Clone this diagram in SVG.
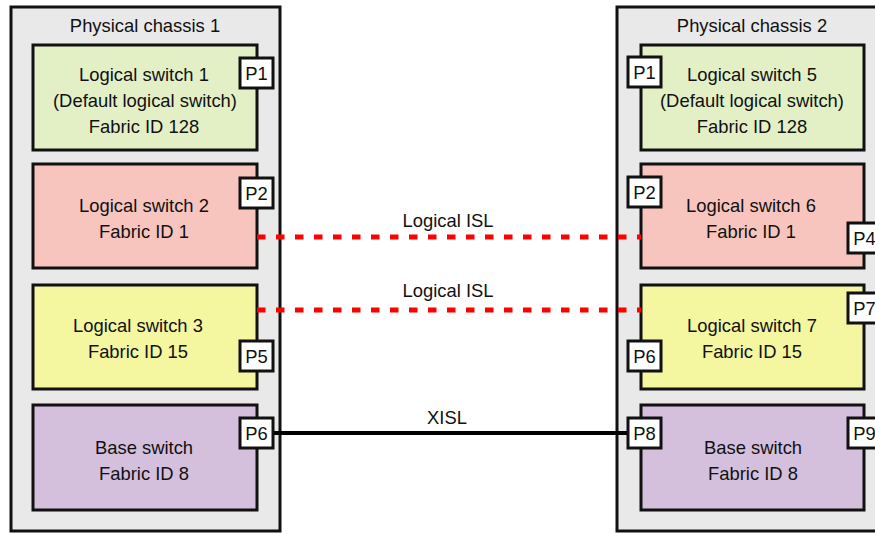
<svg xmlns="http://www.w3.org/2000/svg" width="875" height="533" viewBox="0 0 875 533">
<style>
text{font-family:"Liberation Sans",Arial,sans-serif;font-size:18.4px;fill:#111;text-anchor:middle}
.chassis{fill:#e9e9e9;stroke:#111;stroke-width:3}
.box{stroke:#111;stroke-width:3}
.g{fill:#e3f0c6}.r{fill:#f7c5bd}.y{fill:#f4f6a0}.p{fill:#d4bfdd}
.port{fill:#fff;stroke:#111;stroke-width:3}
.isl{stroke:#f00;stroke-width:5;stroke-dasharray:8.5 10.5;fill:none}
.xisl{stroke:#000;stroke-width:4;fill:none}
</style>
<rect width="875" height="533" fill="#fff"/>
<g id="chassis1">
<rect class="chassis" x="11" y="7" width="269" height="524"/>
<text x="145" y="32">Physical chassis 1</text>
</g>
<g id="chassis2">
<rect class="chassis" x="617" y="7" width="270" height="524"/>
<text x="752" y="32">Physical chassis 2</text>
</g>
<g id="ls1">
<rect class="box g" x="33" y="45" width="224" height="105"/>
<text x="144" y="81">Logical switch 1</text>
<text x="145" y="107">(Default logical switch)</text>
<text x="144" y="133">Fabric ID 128</text>
</g>
<g id="ls2">
<rect class="box r" x="33" y="164" width="224" height="104"/>
<text x="144" y="212">Logical switch 2</text>
<text x="144" y="238">Fabric ID 1</text>
</g>
<g id="ls3">
<rect class="box y" x="33" y="285" width="224" height="104"/>
<text x="138" y="332">Logical switch 3</text>
<text x="138" y="358">Fabric ID 15</text>
</g>
<g id="base1">
<rect class="box p" x="33" y="405" width="224" height="105"/>
<text x="144" y="454">Base switch</text>
<text x="144" y="480">Fabric ID 8</text>
</g>
<g id="ls5">
<rect class="box g" x="641" y="45" width="223" height="105"/>
<text x="752" y="81">Logical switch 5</text>
<text x="752" y="107">(Default logical switch)</text>
<text x="752" y="133">Fabric ID 128</text>
</g>
<g id="ls6">
<rect class="box r" x="641" y="164" width="223" height="104"/>
<text x="751" y="212">Logical switch 6</text>
<text x="751" y="238">Fabric ID 1</text>
</g>
<g id="ls7">
<rect class="box y" x="641" y="285" width="223" height="104"/>
<text x="752" y="332">Logical switch 7</text>
<text x="752" y="358">Fabric ID 15</text>
</g>
<g id="base2">
<rect class="box p" x="641" y="405" width="223" height="105"/>
<text x="753" y="454">Base switch</text>
<text x="753" y="480">Fabric ID 8</text>
</g>
<g id="connectors">
<line class="isl" x1="257" y1="237" x2="641" y2="237"/>
<line class="isl" x1="257" y1="310" x2="641" y2="310"/>
<line class="xisl" x1="273" y1="433" x2="627" y2="433"/>
<text x="448" y="227">Logical ISL</text>
<text x="448" y="297">Logical ISL</text>
<text x="447" y="424">XISL</text>
</g>
<g id="ports">
<rect class="port" x="240" y="58" width="33" height="30"/><text x="256.5" y="80">P1</text>
<rect class="port" x="240" y="178" width="33" height="30"/><text x="256.5" y="200">P2</text>
<rect class="port" x="240" y="341" width="33" height="30"/><text x="256.5" y="363">P5</text>
<rect class="port" x="240" y="418" width="33" height="30"/><text x="256.5" y="440">P6</text>
<rect class="port" x="628" y="57" width="33" height="30"/><text x="644.5" y="79">P1</text>
<rect class="port" x="628" y="177" width="33" height="30"/><text x="644.5" y="199">P2</text>
<rect class="port" x="628" y="341" width="33" height="30"/><text x="644.5" y="363">P6</text>
<rect class="port" x="628" y="418" width="33" height="30"/><text x="644.5" y="440">P8</text>
<rect class="port" x="848" y="223" width="33" height="30"/><text x="864.5" y="245">P4</text>
<rect class="port" x="848" y="293" width="33" height="30"/><text x="864.5" y="315">P7</text>
<rect class="port" x="848" y="418" width="33" height="30"/><text x="864.5" y="440">P9</text>
</g>
</svg>
